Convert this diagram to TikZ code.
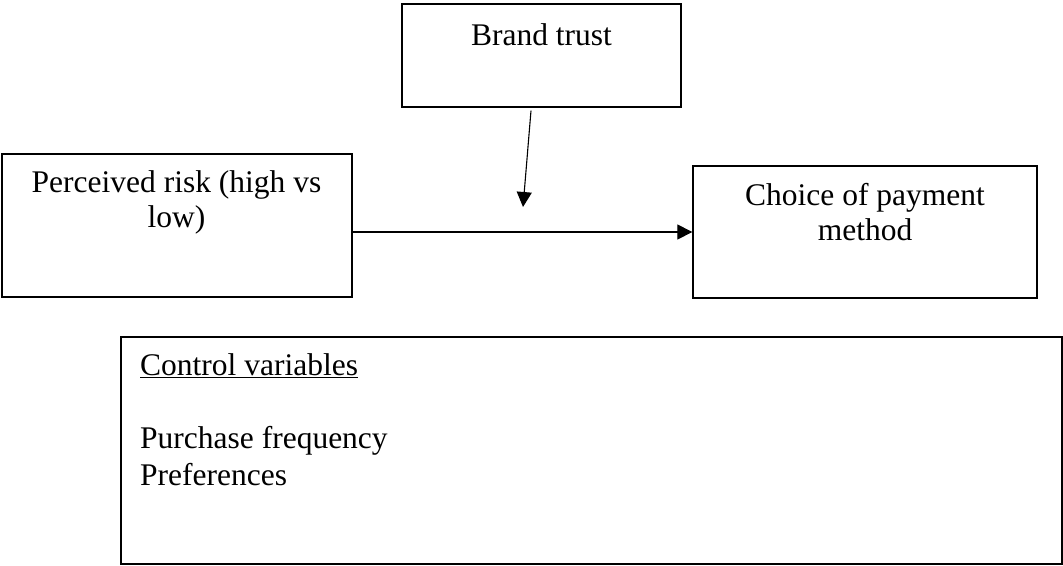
\documentclass[tikz,border=0pt]{standalone}
\usepackage{fontspec}
\setmainfont{Liberation Serif}
\usetikzlibrary{arrows.meta}
\begin{document}
\begin{tikzpicture}[x=1pt,y=-1pt,
  box/.style={draw=black,line width=1.3pt,rectangle,inner sep=0pt},
  lbl/.style={anchor=base,inner sep=0pt,font=\fontsize{31.5}{36.5}\selectfont},
  lbll/.style={anchor=base west,inner sep=0pt,font=\fontsize{31.5}{36.5}\selectfont},
  arr/.style={line width=1.1pt,-{Triangle[length=15pt,width=15pt]}}]
\useasboundingbox (0,0) rectangle (1063,565);
% boxes
\node[box,minimum width=279pt,minimum height=103pt] (bt) at (541.5,55.5) {};
\node[box,minimum width=350pt,minimum height=143pt] (pr) at (177,225.5) {};
\node[box,minimum width=344pt,minimum height=132pt] (ch) at (865,232) {};
\node[box,minimum width=941pt,minimum height=227pt] (cv) at (591.5,450.5) {};
% texts
\node[lbl] (btt) at (541.5,45) {Brand trust};
\node[lbl] (prt1) at (176.5,192) {Perceived risk (high vs};
\node[lbl] (prt2) at (176.5,227) {low)};
\node[lbl] (cht1) at (865,205) {Choice of payment};
\node[lbl] (cht2) at (865,240.5) {method};
\node[lbll] (cvt1) at (140,375) {\underline{Control variables}};
\node[lbll] (cvt2) at (140,448) {Purchase frequency};
\node[lbll] (cvt3) at (140,485) {Preferences};
% connectors
\coordinate (btarrow) at (523,207);
\draw[arr] ([xshift=-10.5pt,yshift=-3pt]bt.south) -- (btarrow);
\draw[arr] (pr.east |- ch.west) -- (ch.west);
\end{tikzpicture}
\end{document}
